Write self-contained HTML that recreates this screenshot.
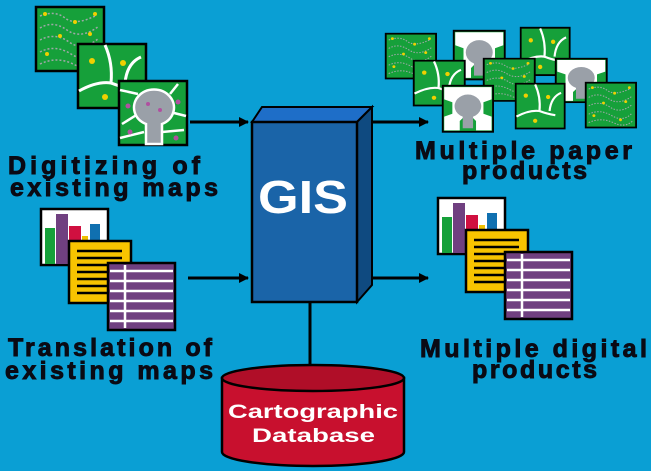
<!DOCTYPE html>
<html><head><meta charset="utf-8"><style>
html,body{margin:0;padding:0;background:#0a9fd4;}
svg{display:block}
.lb{font-family:"Liberation Sans",sans-serif;font-weight:bold;font-size:25px;fill:#0a0a14;stroke:#0a0a14;stroke-width:0.9}
</style></head><body>
<svg width="651" height="471" viewBox="0 0 651 471" xmlns="http://www.w3.org/2000/svg">
<defs>
<g id="tex">
<rect x="1" y="1" width="68" height="64" fill="#16a03a" stroke="#000" stroke-width="2.5"/>
<g fill="none" stroke="#a0a8a8" stroke-width="1.5" stroke-dasharray="2 2">
<path d="M5 10 Q20 4 30 12 T60 10"/><path d="M5 22 Q18 14 32 24 T64 20"/><path d="M5 34 Q20 26 34 36 T64 32"/><path d="M5 46 Q20 38 36 48 T64 44"/><path d="M5 58 Q22 50 38 58 T64 56"/>
</g>
<g fill="#f0d000"><circle cx="10" cy="8" r="2"/><circle cx="40" cy="16" r="2"/><circle cx="25" cy="30" r="2"/><circle cx="55" cy="28" r="2"/><circle cx="12" cy="48" r="2"/><circle cx="48" cy="54" r="2"/><circle cx="60" cy="8" r="2"/></g>
</g>
<g id="road">
<rect x="1" y="1" width="68" height="64" fill="#16a03a" stroke="#000" stroke-width="2.5"/>
<g fill="none" stroke="#fff" stroke-width="3"><path d="M2 48 Q20 38 34 40 Q36 20 28 2"/><path d="M34 40 Q44 44 56 46"/><path d="M48 40 Q50 20 64 14"/></g>
<g fill="#f0d000"><circle cx="15" cy="18" r="3"/><circle cx="46" cy="20" r="3"/><circle cx="28" cy="54" r="3"/></g>
</g>
<g id="blob">
<rect x="1" y="1" width="68" height="64" fill="#16a03a" stroke="#000" stroke-width="2.5"/>
<g fill="none" stroke="#fff" stroke-width="2.5"><path d="M2 10 L20 14"/><path d="M52 14 L60 4"/><path d="M52 32 L68 36"/><path d="M20 34 L4 44"/><path d="M2 58 L26 52"/><path d="M44 52 L66 50"/></g>
<path d="M28 64 L28 44 A20 18 0 1 1 44 44 L44 64 Z" fill="#9aa0a8" stroke="#fff" stroke-width="2.5"/>
<g fill="#b050a0"><circle cx="10" cy="26" r="2.5"/><circle cx="60" cy="22" r="2.5"/><circle cx="30" cy="24" r="2"/><circle cx="42" cy="30" r="2"/><circle cx="12" cy="52" r="2.5"/><circle cx="58" cy="58" r="2.5"/></g>
</g>
<g id="wblob">
<rect x="1" y="1" width="68" height="64" fill="#16a03a" stroke="#000" stroke-width="2.5"/>
<path d="M3 3 H67 V20 L56 24 V40 L67 44 V63 H46 V50 L40 44 H30 L24 50 V63 H3 V44 L14 40 V24 L3 20 Z" fill="#fff"/>
<path d="M28 60 L28 44 A18 16 0 1 1 42 44 L42 60 Z" fill="#9aa0a8"/>
</g>
<g id="docs">
<rect x="1" y="1" width="67" height="56" fill="#fff" stroke="#000" stroke-width="2.5"/>
<rect x="5" y="20" width="10" height="36" fill="#16a03a"/><rect x="16" y="6" width="12" height="50" fill="#704080"/>
<rect x="29" y="18" width="12" height="20" fill="#d01040"/><rect x="42" y="28" width="6" height="10" fill="#f0c000"/><rect x="50" y="16" width="10" height="24" fill="#1070b0"/>
<rect x="29" y="33" width="62" height="62" fill="#f8c400" stroke="#000" stroke-width="2.5"/>
<g stroke="#000" stroke-width="2.5"><line x1="37" y1="43" x2="82" y2="43"/><line x1="37" y1="50" x2="82" y2="50"/><line x1="37" y1="57" x2="82" y2="57"/><line x1="37" y1="64" x2="82" y2="64"/><line x1="37" y1="71" x2="82" y2="71"/><line x1="37" y1="78" x2="82" y2="78"/><line x1="37" y1="85" x2="70" y2="85"/></g>
<rect x="68" y="55" width="67" height="67" fill="#704080" stroke="#000" stroke-width="2.5"/>
<g stroke="#fff" stroke-width="2.5"><line x1="70" y1="63" x2="133" y2="63"/><line x1="70" y1="73" x2="133" y2="73"/><line x1="70" y1="83" x2="133" y2="83"/><line x1="70" y1="93" x2="133" y2="93"/><line x1="70" y1="103" x2="133" y2="103"/><line x1="70" y1="113" x2="133" y2="113"/><line x1="85" y1="57" x2="85" y2="120"/></g>
</g>
<marker id="ar" markerWidth="10" markerHeight="10" refX="9" refY="5" orient="auto" markerUnits="userSpaceOnUse"><path d="M0 0 L10 5 L0 10 Z" fill="#000"/></marker>
</defs>

<use href="#tex" transform="translate(35,6)"/>
<use href="#road" transform="translate(77,43)"/>
<use href="#blob" transform="translate(118,80)"/>

<use href="#docs" transform="translate(40,208)"/>

<use href="#tex" transform="translate(385,33) scale(0.74,0.7)"/>
<use href="#wblob" transform="translate(453,30) scale(0.75,0.76)"/>
<use href="#road" transform="translate(520,27) scale(0.72,0.74)"/>
<use href="#road" transform="translate(413,60) scale(0.75,0.7)"/>
<use href="#tex" transform="translate(483,58) scale(0.75,0.66)"/>
<use href="#wblob" transform="translate(555,58) scale(0.75,0.68)"/>
<use href="#wblob" transform="translate(442,85) scale(0.74,0.72)"/>
<use href="#road" transform="translate(515,83) scale(0.72,0.7)"/>
<use href="#tex" transform="translate(585,82) scale(0.74,0.7)"/>

<use href="#docs" transform="translate(437,197)"/>

<g stroke="#000" stroke-width="3">
<line x1="190" y1="122" x2="248" y2="122" marker-end="url(#ar)"/>
<line x1="188" y1="278" x2="248" y2="278" marker-end="url(#ar)"/>
<line x1="372" y1="122" x2="428" y2="122" marker-end="url(#ar)"/>
<line x1="372" y1="278" x2="428" y2="278" marker-end="url(#ar)"/>
<line x1="310" y1="302" x2="310" y2="380"/>
</g>

<path d="M252 122 L262 107 L372 107 L357 122 Z" fill="#1e6ec8" stroke="#000" stroke-width="2"/>
<path d="M357 122 L372 107 L372 285 L357 302 Z" fill="#0f4a80" stroke="#000" stroke-width="2"/>
<rect x="252" y="122" width="105" height="180" fill="#1a64a8" stroke="#000" stroke-width="2.5"/>
<text x="258" y="213" textLength="90" lengthAdjust="spacingAndGlyphs" font-family="Liberation Sans,sans-serif" font-weight="bold" font-size="46" fill="#fff">GIS</text>

<path d="M222 378 L222 452 A91 14 0 0 0 404 452 L404 378 Z" fill="#c8102e" stroke="#000" stroke-width="2.5"/>
<ellipse cx="313" cy="378" rx="91" ry="13" fill="#b00e28" stroke="#000" stroke-width="2.5"/>
<text x="228" y="418" textLength="170" lengthAdjust="spacingAndGlyphs" font-family="Liberation Sans,sans-serif" font-weight="bold" font-size="19" fill="#fff">Cartographic</text>
<text x="252" y="442" textLength="123" lengthAdjust="spacingAndGlyphs" font-family="Liberation Sans,sans-serif" font-weight="bold" font-size="19" fill="#fff">Database</text>

<text class="lb" x="8" y="174" textLength="192" lengthAdjust="spacing">Digitizing of</text>
<text class="lb" x="10" y="196" textLength="208" lengthAdjust="spacing">existing maps</text>
<text class="lb" x="8" y="356" textLength="204" lengthAdjust="spacing">Translation of</text>
<text class="lb" x="5" y="379" textLength="208" lengthAdjust="spacing">existing maps</text>
<text class="lb" x="415" y="159" textLength="217" lengthAdjust="spacing">Multiple paper</text>
<text class="lb" x="462" y="179" textLength="125" lengthAdjust="spacing">products</text>
<text class="lb" x="420" y="357" textLength="227" lengthAdjust="spacing">Multiple digital</text>
<text class="lb" x="472" y="378" textLength="125" lengthAdjust="spacing">products</text>
</svg>
</body></html>
